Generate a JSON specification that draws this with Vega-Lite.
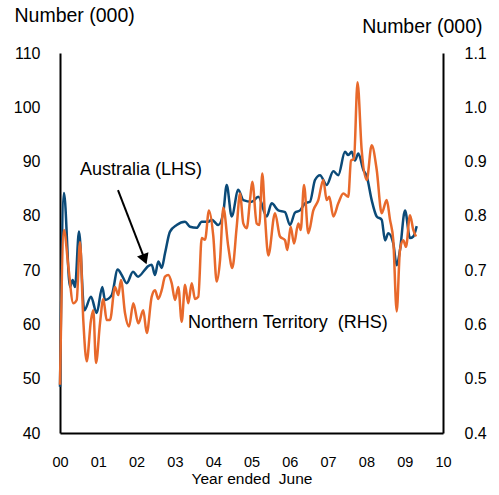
{
  "$schema": "https://vega.github.io/schema/vega-lite/v6.json",
  "width": 383,
  "height": 380,
  "autosize": {"type": "none"},
  "padding": {"left": 60, "top": 53, "right": 56, "bottom": 62},
  "background": "white",
  "config": {
    "font": "Liberation Sans",
    "view": {"stroke": null},
    "axis": {
      "grid": false,
      "ticks": false,
      "domainColor": "black",
      "domainWidth": 2,
      "labelFont": "Liberation Sans",
      "labelFontSize": 15,
      "labelColor": "black",
      "labelFlush": false,
      "titleFont": "Liberation Sans",
      "titleFontWeight": "normal",
      "titleColor": "black"
    }
  },
  "datasets": {
    "aus": [
      {"t":0,"v":48.5},{"t":0.104,"v":84.2},{"t":0.261,"v":66.9},{"t":0.332,"v":68.2},{"t":0.392,"v":66.9},
      {"t":0.496,"v":77.1},{"t":0.634,"v":62.6},{"t":0.809,"v":65.1},{"t":0.958,"v":62.1},{"t":1.104,"v":66.9},
      {"t":1.175,"v":64.5},{"t":1.35,"v":65.4},{"t":1.507,"v":70.1},{"t":1.611,"v":69.1},{"t":1.742,"v":67.6},
      {"t":1.906,"v":69.7},{"t":2.037,"v":68.8},{"t":2.219,"v":70.1},{"t":2.298,"v":70.7},{"t":2.394,"v":71.0},
      {"t":2.48,"v":69.1},{"t":2.567,"v":71.6},{"t":2.655,"v":70.4},{"t":2.742,"v":73.1},{"t":2.872,"v":77.1},
      {"t":3.047,"v":78.3},{"t":3.264,"v":78.9},{"t":3.394,"v":78.0},{"t":3.569,"v":77.8},{"t":3.7,"v":78.9},
      {"t":3.872,"v":78.9},{"t":3.961,"v":79.3},{"t":4.133,"v":78.3},{"t":4.264,"v":80.6},{"t":4.352,"v":85.7},
      {"t":4.483,"v":79.9},{"t":4.655,"v":84.8},{"t":4.786,"v":82.9},{"t":5.005,"v":82.6},{"t":5.178,"v":83.5},
      {"t":5.397,"v":79.9},{"t":5.527,"v":82.3},{"t":5.7,"v":81.0},{"t":5.875,"v":80.7},{"t":6.005,"v":78.3},
      {"t":6.136,"v":80.6},{"t":6.266,"v":81.0},{"t":6.397,"v":82.3},{"t":6.527,"v":82.6},{"t":6.658,"v":86.6},
      {"t":6.789,"v":87.5},{"t":6.963,"v":85.7},{"t":7.136,"v":88.2},{"t":7.266,"v":87.5},{"t":7.441,"v":91.8},
      {"t":7.527,"v":91.2},{"t":7.616,"v":91.8},{"t":7.702,"v":90.2},{"t":7.789,"v":91.5},{"t":7.919,"v":88.5},
      {"t":8.008,"v":87.3},{"t":8.138,"v":82.9},{"t":8.269,"v":79.9},{"t":8.399,"v":79.3},{"t":8.486,"v":75.5},
      {"t":8.572,"v":76.8},{"t":8.702,"v":74.9},{"t":8.791,"v":70.9},{"t":8.877,"v":73.7},{"t":9.008,"v":81.0},
      {"t":9.138,"v":75.9},{"t":9.225,"v":76.2},{"t":9.313,"v":78.1}
    ],
    "nt": [
      {"t":0,"v":0.489},{"t":0.104,"v":0.774},{"t":0.217,"v":0.707},{"t":0.347,"v":0.639},{"t":0.436,"v":0.645},
      {"t":0.522,"v":0.752},{"t":0.608,"v":0.608},{"t":0.697,"v":0.532},{"t":0.809,"v":0.608},{"t":0.869,"v":0.626},
      {"t":0.94,"v":0.529},{"t":1.044,"v":0.602},{"t":1.131,"v":0.647},{"t":1.219,"v":0.608},{"t":1.305,"v":0.608},
      {"t":1.436,"v":0.669},{"t":1.522,"v":0.654},{"t":1.593,"v":0.682},{"t":1.697,"v":0.621},{"t":1.802,"v":0.596},
      {"t":1.914,"v":0.639},{"t":2.044,"v":0.602},{"t":2.175,"v":0.626},{"t":2.264,"v":0.584},{"t":2.394,"v":0.651},
      {"t":2.48,"v":0.663},{"t":2.567,"v":0.647},{"t":2.655,"v":0.663},{"t":2.742,"v":0.688},{"t":2.828,"v":0.691},
      {"t":2.916,"v":0.676},{"t":3.003,"v":0.645},{"t":3.089,"v":0.669},{"t":3.178,"v":0.605},{"t":3.264,"v":0.673},
      {"t":3.35,"v":0.639},{"t":3.439,"v":0.676},{"t":3.525,"v":0.647},{"t":3.611,"v":0.651},{"t":3.7,"v":0.759},
      {"t":3.786,"v":0.756},{"t":3.89,"v":0.81},{"t":4.003,"v":0.762},{"t":4.091,"v":0.679},{"t":4.178,"v":0.718},
      {"t":4.264,"v":0.815},{"t":4.394,"v":0.743},{"t":4.499,"v":0.704},{"t":4.614,"v":0.78},{"t":4.7,"v":0.841},
      {"t":4.786,"v":0.786},{"t":4.875,"v":0.777},{"t":4.961,"v":0.829},{"t":5.021,"v":0.863},{"t":5.136,"v":0.786},
      {"t":5.204,"v":0.783},{"t":5.282,"v":0.878},{"t":5.352,"v":0.799},{"t":5.439,"v":0.727},{"t":5.614,"v":0.805},
      {"t":5.744,"v":0.762},{"t":5.875,"v":0.755},{"t":5.935,"v":0.737},{"t":6.023,"v":0.78},{"t":6.11,"v":0.749},
      {"t":6.222,"v":0.786},{"t":6.285,"v":0.774},{"t":6.371,"v":0.857},{"t":6.483,"v":0.768},{"t":6.614,"v":0.81},
      {"t":6.744,"v":0.829},{"t":6.875,"v":0.866},{"t":6.963,"v":0.829},{"t":7.031,"v":0.835},{"t":7.136,"v":0.799},
      {"t":7.266,"v":0.823},{"t":7.397,"v":0.841},{"t":7.527,"v":0.835},{"t":7.598,"v":0.902},{"t":7.676,"v":0.905},
      {"t":7.768,"v":1.046},{"t":7.877,"v":0.921},{"t":8.008,"v":0.866},{"t":8.138,"v":0.93},{"t":8.269,"v":0.885},
      {"t":8.399,"v":0.805},{"t":8.53,"v":0.829},{"t":8.616,"v":0.793},{"t":8.702,"v":0.755},{"t":8.791,"v":0.624},
      {"t":8.877,"v":0.737},{"t":8.963,"v":0.755},{"t":9.034,"v":0.743},{"t":9.138,"v":0.801},{"t":9.225,"v":0.774},
      {"t":9.295,"v":0.762}
    ],
    "labels": [
      {"t":0.522,"v":88.4,"label":"Australia (LHS)"},
      {"t":3.342,"v":60.3,"label":"Northern Territory\u00a0 (RHS)"}
    ],
    "arrow": [
      {"t":1.514,"v":84.75,"t2":2.18,"v2":72.6}
    ],
    "head": [
      {"t":2.21,"v":72.0}
    ]
  },
  "encoding": {
    "x": {
      "field": "t",
      "type": "quantitative",
      "scale": {"domain": [0, 10], "nice": false, "zero": false},
      "axis": {
        "values": [0,1,2,3,4,5,6,7,8,9,10],
        "labelExpr": "datum.value < 10 ? '0' + datum.value : '' + datum.value",
        "labelPadding": 22,
        "labelFontSize": 14.5,
        "title": "Year ended\u00a0 June",
        "titleFontSize": 15.5,
        "titleBaseline": "alphabetic",
        "titleY": 50
      }
    }
  },
  "layer": [
    {
      "data": {"name": "aus"},
      "mark": {"type": "line", "color": "#0b4a78", "strokeWidth": 2.5, "interpolate": "monotone"},
      "encoding": {
        "y": {
          "field": "v",
          "type": "quantitative",
          "scale": {"domain": [40, 110], "nice": false, "zero": false},
          "axis": {
            "orient": "left",
            "values": [40,50,60,70,80,90,100,110],
            "labelPadding": 20,
            "labelFontSize": 16,
            "title": "Number (000)",
            "titleAngle": 0,
            "titleFontSize": 19.5,
            "titleAlign": "left",
            "titleBaseline": "alphabetic",
            "titleX": -46,
            "titleY": -32
          }
        }
      }
    },
    {
      "data": {"name": "nt"},
      "mark": {"type": "line", "color": "#e8692b", "strokeWidth": 2.5, "interpolate": "monotone"},
      "encoding": {
        "y": {
          "field": "v",
          "type": "quantitative",
          "scale": {"domain": [0.4, 1.1], "nice": false, "zero": false},
          "axis": {
            "orient": "right",
            "values": [0.4,0.5,0.6,0.7,0.8,0.9,1.0,1.1],
            "format": ".1f",
            "labelPadding": 21,
            "labelFontSize": 16,
            "title": "Number (000)",
            "titleAngle": 0,
            "titleFontSize": 19.5,
            "titleAlign": "right",
            "titleBaseline": "alphabetic",
            "titleX": 39,
            "titleY": -21
          }
        }
      }
    },
    {
      "data": {"name": "labels"},
      "mark": {"type": "text", "align": "left", "baseline": "middle", "fontSize": 18, "font": "Liberation Sans", "color": "black"},
      "encoding": {
        "y": {"field": "v", "type": "quantitative", "scale": {"domain": [40, 110], "nice": false, "zero": false}, "axis": null},
        "text": {"field": "label", "type": "nominal"}
      }
    },
    {
      "data": {"name": "arrow"},
      "mark": {"type": "rule", "color": "black", "strokeWidth": 2},
      "encoding": {
        "y": {"field": "v", "type": "quantitative", "scale": {"domain": [40, 110], "nice": false, "zero": false}, "axis": null},
        "x2": {"field": "t2"},
        "y2": {"field": "v2"}
      }
    },
    {
      "data": {"name": "head"},
      "mark": {"type": "point", "shape": "triangle-down", "filled": true, "color": "black", "size": 150, "angle": 339, "opacity": 1},
      "encoding": {
        "y": {"field": "v", "type": "quantitative", "scale": {"domain": [40, 110], "nice": false, "zero": false}, "axis": null}
      }
    }
  ],
  "resolve": {"scale": {"y": "independent"}, "axis": {"y": "independent"}}
}
